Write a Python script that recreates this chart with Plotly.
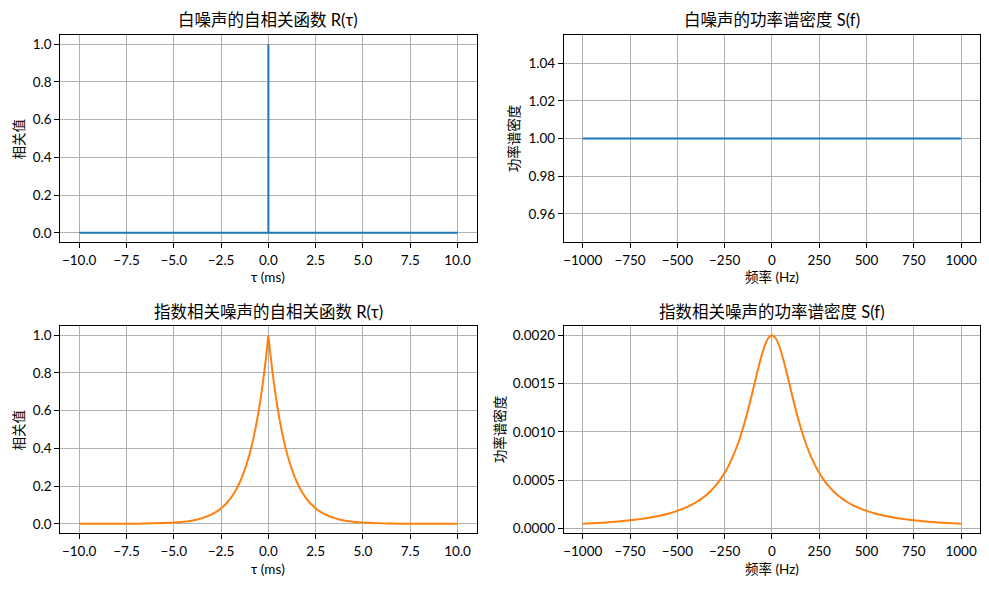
import plotly.graph_objects as go

# ---------------- data ----------------
# white noise autocorrelation (delta at tau = 0)
tau_white = [-10.0, 0.0, 0.0, 0.0, 10.0]
r_white = [0.0, 0.0, 1.0, 0.0, 0.0]

# white noise PSD (flat)
f_white = [-1000.0, -500.0, 0.0, 500.0, 1000.0]
s_white = [1.0, 1.0, 1.0, 1.0, 1.0]

# exponentially correlated noise autocorrelation
tau_exp = [-10.0, -9.0, -8.0, -7.5, -7.0, -6.5, -6.0, -5.5, -5.0, -4.75, -4.5, -4.25, -4.0, -3.75, -3.5, -3.25, -3.0,
           -2.8, -2.6, -2.4, -2.2, -2.0, -1.9, -1.8, -1.7, -1.6, -1.5, -1.4, -1.3, -1.2, -1.1,
           -1.0, -0.9, -0.8, -0.7, -0.6, -0.5, -0.4, -0.3, -0.2, -0.1,
           0.0,
           0.1, 0.2, 0.3, 0.4, 0.5, 0.6, 0.7, 0.8, 0.9, 1.0,
           1.1, 1.2, 1.3, 1.4, 1.5, 1.6, 1.7, 1.8, 1.9, 2.0, 2.2, 2.4, 2.6, 2.8,
           3.0, 3.25, 3.5, 3.75, 4.0, 4.25, 4.5, 4.75, 5.0, 5.5, 6.0, 6.5, 7.0, 7.5, 8.0, 9.0, 10.0]
r_exp = [0.00005, 0.0001, 0.0003, 0.00055, 0.0009, 0.0015, 0.0025, 0.0041, 0.0067, 0.0087, 0.0111, 0.0143, 0.0183,
         0.0235, 0.0302, 0.0388, 0.0498,
         0.0608, 0.0743, 0.0907, 0.1108, 0.1353, 0.1496, 0.1653, 0.1827, 0.2019, 0.2231, 0.2466, 0.2725, 0.3012, 0.3329,
         0.3679, 0.4066, 0.4493, 0.4966, 0.5488, 0.6065, 0.6703, 0.7408, 0.8187, 0.9048,
         1.0000,
         0.9048, 0.8187, 0.7408, 0.6703, 0.6065, 0.5488, 0.4966, 0.4493, 0.4066, 0.3679,
         0.3329, 0.3012, 0.2725, 0.2466, 0.2231, 0.2019, 0.1827, 0.1653, 0.1496, 0.1353, 0.1108, 0.0907, 0.0743, 0.0608,
         0.0498, 0.0388, 0.0302, 0.0235, 0.0183, 0.0143, 0.0111, 0.0087, 0.0067, 0.0041, 0.0025, 0.0015, 0.0009,
         0.00055, 0.0003, 0.0001, 0.00005]

# exponentially correlated noise PSD
f_exp = [-1000, -950, -900, -850, -800, -750, -700, -650, -600, -550, -500, -475, -450, -425, -400, -375, -350,
         -325, -300, -275, -250, -225, -200,
         -180, -160, -140, -120, -100, -80, -60, -40, -20,
         0,
         20, 40, 60, 80, 100, 120, 140, 160, 180,
         200, 225, 250, 275, 300, 325, 350, 375, 400, 425, 450, 475, 500,
         550, 600, 650, 700, 750, 800, 850, 900, 950, 1000]
s_exp = [0.0000494, 0.0000546, 0.0000606, 0.0000677, 0.0000761, 0.0000862, 0.0000983, 0.0001131, 0.000131,
         0.0001545, 0.000184, 0.000202, 0.000222, 0.000246, 0.000273, 0.000305, 0.000343,
         0.000387, 0.000439, 0.000502, 0.000577, 0.000667, 0.000775,
         0.000878, 0.000995, 0.001128, 0.001275, 0.001434, 0.001597, 0.001751, 0.001881, 0.001969,
         0.002000,
         0.001969, 0.001881, 0.001751, 0.001597, 0.001434, 0.001275, 0.001128, 0.000995, 0.000878,
         0.000775, 0.000667, 0.000577, 0.000502, 0.000439, 0.000387, 0.000343, 0.000305, 0.000273,
         0.000246, 0.000222, 0.000202, 0.000184,
         0.0001545, 0.000131, 0.0001131, 0.0000983, 0.0000862, 0.0000761, 0.0000677, 0.0000606, 0.0000546, 0.0000494]

# tick labels
tau_ticks = [-10.0, -7.5, -5.0, -2.5, 0.0, 2.5, 5.0, 7.5, 10.0]
tau_ticklabels = ["\u221210.0", "\u22127.5", "\u22125.0", "\u22122.5", "0.0", "2.5", "5.0", "7.5", "10.0"]
f_ticks = [-1000, -750, -500, -250, 0, 250, 500, 750, 1000]
f_ticklabels = ["\u22121000", "\u2212750", "\u2212500", "\u2212250", "0", "250", "500", "750", "1000"]
r_ticks = [0.0, 0.2, 0.4, 0.6, 0.8, 1.0]
r_ticklabels = ["0.0", "0.2", "0.4", "0.6", "0.8", "1.0"]
sw_ticks = [0.96, 0.98, 1.00, 1.02, 1.04]
sw_ticklabels = ["0.96", "0.98", "1.00", "1.02", "1.04"]
se_ticks = [0.0, 0.0005, 0.0010, 0.0015, 0.0020]
se_ticklabels = ["0.0000", "0.0005", "0.0010", "0.0015", "0.0020"]

titles = ["白噪声的自相关函数 R(τ)", "白噪声的功率谱密度 S(f)",
          "指数相关噪声的自相关函数 R(τ)", "指数相关噪声的功率谱密度 S(f)"]
xlabels = ["τ (ms)", "频率 (Hz)", "τ (ms)", "频率 (Hz)"]
ylabels = ["相关值", "功率谱密度", "相关值", "功率谱密度"]

# ---------------- figure ----------------
W, H = 989, 590
FONT = "Lato, 'Noto Sans CJK SC', sans-serif"
BLUE = "#1f77b4"
ORANGE = "#ff7f0e"

fig = go.Figure()
fig.add_trace(go.Scatter(x=tau_white, y=r_white, mode="lines",
                         line=dict(color=BLUE, width=2, simplify=False),
                         xaxis="x", yaxis="y", showlegend=False))
fig.add_trace(go.Scatter(x=f_white, y=s_white, mode="lines",
                         line=dict(color=BLUE, width=2, simplify=False),
                         xaxis="x2", yaxis="y2", showlegend=False))
fig.add_trace(go.Scatter(x=tau_exp, y=r_exp, mode="lines",
                         line=dict(color=ORANGE, width=2, simplify=False),
                         xaxis="x3", yaxis="y3", showlegend=False))
fig.add_trace(go.Scatter(x=f_exp, y=s_exp, mode="lines",
                         line=dict(color=ORANGE, width=2, simplify=False, shape="spline", smoothing=0.5),
                         xaxis="x4", yaxis="y4", showlegend=False))

xl = [59.3 / W, 476.0 / W]
xr = [563.4 / W, 980.0 / W]
yt = [1 - 243.5 / H, 1 - 35.0 / H]
yb = [1 - 536.0 / H, 1 - 327.5 / H]

def ax(domain, anchor, rng, tv, tt):
    return dict(domain=domain, anchor=anchor, range=rng, tickvals=tv, ticktext=tt,
                showgrid=True, gridcolor="#b0b0b0", gridwidth=1.1, zeroline=False,
                showline=True, mirror=True, linecolor="black", linewidth=1.1,
                ticks="outside", ticklen=5, tickwidth=1.1, tickcolor="black",
                tickfont=dict(family=FONT, size=13.5, color="black"))

s_lo = -0.0000481
s_hi = 0.0020975
fig.update_layout(
    width=W, height=H, margin=dict(l=0, r=0, t=0, b=0),
    paper_bgcolor="white", plot_bgcolor="white",
    font=dict(family=FONT, color="black"),
    xaxis=ax(xl, "y", [-11, 11], tau_ticks, tau_ticklabels),
    yaxis=ax(yt, "x", [-0.05, 1.05], r_ticks, r_ticklabels),
    xaxis2=ax(xr, "y2", [-1100, 1100], f_ticks, f_ticklabels),
    yaxis2=ax(yt, "x2", [0.945, 1.055], sw_ticks, sw_ticklabels),
    xaxis3=ax(xl, "y3", [-11, 11], tau_ticks, tau_ticklabels),
    yaxis3=ax(yb, "x3", [-0.05, 1.05], r_ticks, r_ticklabels),
    xaxis4=ax(xr, "y4", [-1100, 1100], f_ticks, f_ticklabels),
    yaxis4=ax(yb, "x4", [s_lo, s_hi], se_ticks, se_ticklabels),
)

ann = []
title_pos = [((xl[0] + xl[1]) / 2, 1 - 20.5 / H), ((xr[0] + xr[1]) / 2, 1 - 20.5 / H),
             ((xl[0] + xl[1]) / 2, 1 - 313.3 / H), ((xr[0] + xr[1]) / 2, 1 - 313.3 / H)]
xlab_pos = [((xl[0] + xl[1]) / 2, 1 - 278.0 / H), ((xr[0] + xr[1]) / 2, 1 - 278.0 / H),
            ((xl[0] + xl[1]) / 2, 1 - 571.7 / H), ((xr[0] + xr[1]) / 2, 1 - 571.7 / H)]
ylab_pos = [(18.0 / W, (yt[0] + yt[1]) / 2), (513.3 / W, (yt[0] + yt[1]) / 2),
            (18.0 / W, (yb[0] + yb[1]) / 2), (499.3 / W, (yb[0] + yb[1]) / 2)]
for i in range(4):
    ann.append(dict(text=titles[i], x=title_pos[i][0], y=title_pos[i][1], xref="paper", yref="paper",
                    xanchor="center", yanchor="middle", showarrow=False,
                    font=dict(family=FONT, size=16.5, color="black")))
    ann.append(dict(text=xlabels[i], x=xlab_pos[i][0], y=xlab_pos[i][1], xref="paper", yref="paper",
                    xanchor="center", yanchor="middle", showarrow=False,
                    font=dict(family=FONT, size=13.5, color="black")))
    ann.append(dict(text=ylabels[i], x=ylab_pos[i][0], y=ylab_pos[i][1], xref="paper", yref="paper",
                    xanchor="center", yanchor="middle", showarrow=False, textangle=-90,
                    font=dict(family=FONT, size=13.5, color="black")))
fig.update_layout(annotations=ann)

fig.write_html("out.html", config={"displayModeBar": False},
               post_script="document.body.style.margin='0px';")
